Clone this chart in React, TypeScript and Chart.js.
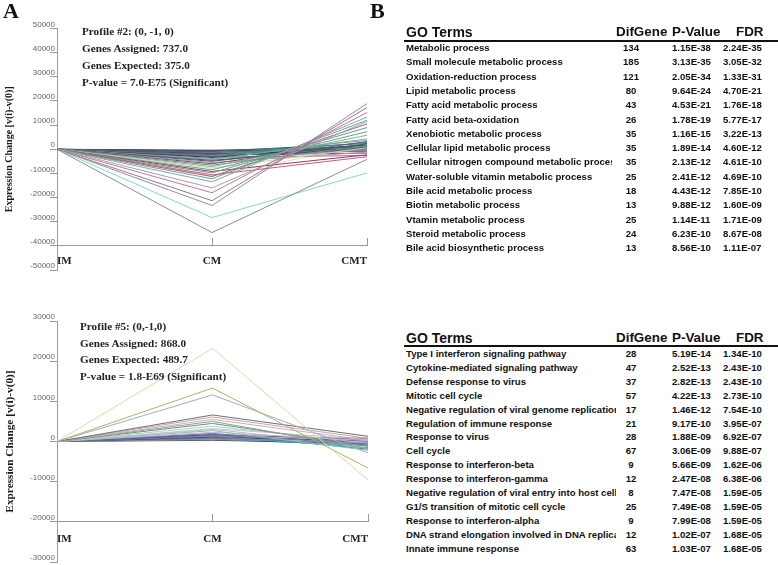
import React, { useEffect, useRef } from "react";
import { Chart, registerables } from "chart.js";

Chart.register(...registerables);

// ---------- Data ----------
const stages = ["IM", "CM", "CMT"];

// Profile #2 (0,-1,0): value at CM and CMT (IM is always 0)
const p2CM = [-34500, -28300, -23300, -21300, -18000, -16000, -13500, -12200, -11300, -10600, -9800, -9200, -8500, -7800, -7200, -6600, -6000, -5500, -5000, -4600, -4200, -3800, -3400, -3000, -2700, -2400, -2100, -1800, -1500, -1200, -900, -600, -400, -2200, -3300, -11000];
const p2CMT = [-4200, -9800, 18900, 17300, 15200, 11500, 13300, 12000, 10500, -3100, 9000, -2300, 7300, 600, 5800, 1400, 3200, -1200, 2200, 800, 4300, -500, 1800, 200, 2800, -1600, 1000, -800, 1500, 300, 2400, -300, 900, 3600, -2600, 1700];
const p2Colors = ["#8c8c96", "#7fdcc0", "#9e8a9e", "#8a7c94", "#c47a96", "#a9a0b0", "#8fa3a3", "#5caa96", "#b35b7e", "#c75a8b", "#6a9a80", "#8e3d66", "#4ea8a8", "#d6d69a", "#a8a878", "#49a58e", "#7a4a8a", "#c18aa8", "#2f6f4f", "#6b3a7a", "#5fb8a8", "#8a8a8a", "#4b2a60", "#3b7a5a", "#2e9b8a", "#7b4b93", "#556b55", "#5b2c6f", "#3c8b6c", "#6e3573", "#4a5f8a", "#5b2c6f", "#2f5f4f", "#9a9a9a", "#b06a8a", "#e0e0b0"];
const p2Ticks = [50000, 40000, 30000, 20000, 10000, 0, -10000, -20000, -30000, -40000, -50000];

// Profile #5 (0,-1,0)
const p5CM = [23200, 13300, 11600, 6600, 6100, 5500, 5000, 4500, 3800, 3200, 2700, 2300, 2000, 1700, 1500, 1300, 1100, 900, 700, 500, 1900, 3000, 800, 300, 1200, 600];
const p5CMT = [-9600, -6600, -2800, 1300, 800, 300, -1800, -1200, -400, 500, -2200, 200, -900, 600, -300, -1500, 100, -700, 400, -200, -1900, -1000, 900, -500, 300, -1000];
const p5Colors = ["#d9dca6", "#a6b56a", "#a9a6c6", "#6f6f6f", "#b9aaaa", "#d6a9b9", "#9a9a9a", "#4fa55a", "#a9c9e6", "#c6c6c6", "#86c6a6", "#e6a6c6", "#5f86c6", "#4f4f96", "#a65f86", "#3fa6a6", "#2f3f86", "#865fa6", "#5fa65f", "#c6865f", "#3086a6", "#c6b6d6", "#96a6b6", "#2f4f9f", "#6f3f8f", "#4f8fbf"];
const p5Ticks = [30000, 20000, 10000, 0, -10000, -20000, -30000];

const p2Notes = ["Profile #2: (0, -1, 0)", "Genes Assigned: 737.0", "Genes Expected: 375.0", "P-value = 7.0-E75 (Significant)"];
const p5Notes = ["Profile #5: (0,-1,0)", "Genes Assigned: 868.0", "Genes Expected: 489.7", "P-value = 1.8-E69 (Significant)"];

const tableHeaders = ["GO Terms", "DifGene", "P-Value", "FDR"];

const goTerms1 = ["Metabolic process", "Small molecule metabolic process", "Oxidation-reduction process", "Lipid metabolic process", "Fatty acid metabolic process", "Fatty acid beta-oxidation", "Xenobiotic metabolic process", "Cellular lipid metabolic process", "Cellular nitrogen compound metabolic process", "Water-soluble vitamin metabolic process", "Bile acid metabolic process", "Biotin metabolic process", "Vtamin metabolic process", "Steroid metabolic process", "Bile acid biosynthetic process"];
const difGene1 = [134, 185, 121, 80, 43, 26, 35, 35, 35, 25, 18, 13, 25, 24, 13];
const pValue1 = ["1.15E-38", "3.13E-35", "2.05E-34", "9.64E-24", "4.53E-21", "1.78E-19", "1.16E-15", "1.89E-14", "2.13E-12", "2.41E-12", "4.43E-12", "9.88E-12", "1.14E-11", "6.23E-10", "8.56E-10"];
const fdr1 = ["2.24E-35", "3.05E-32", "1.33E-31", "4.70E-21", "1.76E-18", "5.77E-17", "3.22E-13", "4.60E-12", "4.61E-10", "4.69E-10", "7.85E-10", "1.60E-09", "1.71E-09", "8.67E-08", "1.11E-07"];

const goTerms2 = ["Type I interferon signaling pathway", "Cytokine-mediated signaling pathway", "Defense response to virus", "Mitotic cell cycle", "Negative regulation of viral genome replication", "Regulation of immune response", "Response to virus", "Cell cycle", "Response to interferon-beta", "Response to interferon-gamma", "Negative regulation of viral entry into host cell", "G1/S transition of mitotic cell cycle", "Response to interferon-alpha", "DNA strand elongation involved in DNA replication", "Innate immune response"];
const difGene2 = [28, 47, 37, 57, 17, 21, 28, 67, 9, 12, 8, 25, 9, 12, 63];
const pValue2 = ["5.19E-14", "2.52E-13", "2.82E-13", "4.22E-13", "1.46E-12", "9.17E-10", "1.88E-09", "3.06E-09", "5.66E-09", "2.47E-08", "7.47E-08", "7.49E-08", "7.99E-08", "1.02E-07", "1.03E-07"];
const fdr2 = ["1.34E-10", "2.43E-10", "2.43E-10", "2.73E-10", "7.54E-10", "3.95E-07", "6.92E-07", "9.88E-07", "1.62E-06", "6.38E-06", "1.59E-05", "1.59E-05", "1.59E-05", "1.68E-05", "1.68E-05"];

// ---------- Styling ----------
const SERIF = '"Liberation Serif", "Times New Roman", serif';
const SANS = '"Liberation Sans", Arial, sans-serif';

type PanelProps = {
  top: number;
  height: number;
  cm: number[];
  cmt: number[];
  colors: string[];
  ticks: number[];
  axisAt: number;
  pad: { top: number; bottom: number; right: number };
  titleSize: number;
  labelPad: number;
};

function ProfileChart(props: PanelProps) {
  const ref = useRef<HTMLCanvasElement | null>(null);
  useEffect(() => {
    const canvas = ref.current;
    if (!canvas) return;
    const datasets = props.cm.map((v, i) => ({
      data: [0, v, props.cmt[i]],
      borderColor: props.colors[i],
      borderWidth: 1,
      pointRadius: 0,
      tension: 0,
      fill: false,
    }));
    const maxV = props.ticks[0];
    const minV = props.ticks[props.ticks.length - 1];
    const chart = new Chart(canvas, {
      type: "line",
      data: { labels: stages, datasets },
      options: {
        animation: false,
        responsive: false,
        devicePixelRatio: 1,
        layout: { padding: { top: props.pad.top, bottom: props.pad.bottom, left: 0, right: props.pad.right } },
        plugins: { legend: { display: false }, tooltip: { enabled: false } },
        scales: {
          x: {
            type: "category",
            offset: false,
            position: { y: props.axisAt } as any,
            ticks: {
              align: "inner",
              autoSkip: false,
              maxRotation: 0,
              padding: props.labelPad,
              color: "#222",
              font: { family: SERIF, weight: "bold", size: 11 },
            },
            grid: { drawOnChartArea: false, drawTicks: true, tickLength: -8, color: "#9a9a9a" },
            border: { display: true, color: "#9a9a9a" },
          },
          y: {
            type: "linear",
            min: minV,
            max: maxV,
            ticks: {
              stepSize: props.ticks[0] - props.ticks[1],
              autoSkip: false,
              padding: -5,
              labelOffset: -4,
              color: "#666",
              font: { family: SANS, size: 8 },
              callback: (v: any) => String(v),
            },
            grid: { drawOnChartArea: false, drawTicks: true, tickLength: 7, color: "#9a9a9a" },
            border: { display: true, color: "#9a9a9a" },
            title: {
              display: true,
              text: "Expression Change [v(i)-v(0)]",
              color: "#1a1a1a",
              font: { family: SERIF, weight: "bold", size: props.titleSize },
              padding: { top: 3, bottom: 0 },
            },
            afterFit: (s: any) => {
              s.width = 57;
            },
          },
        },
      },
    });
    return () => chart.destroy();
  }, []);
  return (
    <canvas
      ref={ref}
      width={390}
      height={props.height}
      style={{ position: "absolute", left: 0, top: props.top, width: 390, height: props.height }}
    />
  );
}

function Notes({ lines, left, tops }: { lines: string[]; left: number; tops: number[] }) {
  return (
    <>
      {lines.map((t, i) => (
        <div
          key={i}
          style={{
            position: "absolute",
            left,
            top: tops[i],
            fontFamily: SERIF,
            fontWeight: "bold",
            fontSize: 11.2,
            lineHeight: "14px",
            color: "#222",
            whiteSpace: "nowrap",
          }}
        >
          {t}
        </div>
      ))}
    </>
  );
}

function GoTable(props: {
  headerTop: number;
  lineTop: number;
  rowTop: number;
  rowStep: number;
  nameWidth: number;
  terms: string[];
  dif: number[];
  pv: string[];
  fdr: string[];
}) {
  const cell = (extra: any) => ({
    position: "absolute" as const,
    fontFamily: SANS,
    fontWeight: "bold" as const,
    whiteSpace: "nowrap" as const,
    color: "#111",
    ...extra,
  });
  const hdr = { fontSize: 13.4, lineHeight: "16px", top: props.headerTop };
  return (
    <>
      <div style={cell({ ...hdr, left: 406, fontSize: 14 })}>{tableHeaders[0]}</div>
      <div style={cell({ ...hdr, left: 616 })}>{tableHeaders[1]}</div>
      <div style={cell({ ...hdr, left: 672 })}>{tableHeaders[2]}</div>
      <div style={cell({ ...hdr, left: 736 })}>{tableHeaders[3]}</div>
      <div style={{ position: "absolute", left: 404, top: props.lineTop, width: 374, height: 2, background: "#111" }} />
      {props.terms.map((t, i) => {
        const top = props.rowTop + i * props.rowStep;
        const row = { fontSize: 9.6, lineHeight: "14px", top };
        return (
          <React.Fragment key={i}>
            <div style={cell({ ...row, left: 406, width: props.nameWidth, overflow: "hidden" })}>{t}</div>
            <div style={cell({ ...row, left: 611, width: 40, textAlign: "center" })}>{props.dif[i]}</div>
            <div style={cell({ ...row, left: 672 })}>{props.pv[i]}</div>
            <div style={cell({ ...row, left: 723 })}>{props.fdr[i]}</div>
          </React.Fragment>
        );
      })}
    </>
  );
}

export default function App() {
  return (
    <div style={{ position: "absolute", left: 0, top: 0, width: 778, height: 565, background: "#fff", overflow: "hidden" }}>
      <ProfileChart
        top={0}
        height={285}
        cm={p2CM}
        cmt={p2CMT}
        colors={p2Colors}
        ticks={p2Ticks}
        axisAt={-40000}
        pad={{ top: 28.5, bottom: 15, right: 23 }}
        titleSize={10}
        labelPad={17}
      />
      <ProfileChart
        top={285}
        height={280}
        cm={p5CM}
        cmt={p5CMT}
        colors={p5Colors}
        ticks={p5Ticks}
        axisAt={-20000}
        pad={{ top: 36, bottom: 3, right: 22 }}
        titleSize={11.3}
        labelPad={19}
      />
      <Notes lines={p2Notes} left={82} tops={[24, 41, 58, 75]} />
      <Notes lines={p5Notes} left={80} tops={[319, 336, 352, 369]} />
      <div style={{ position: "absolute", left: 3, top: -2, fontFamily: SERIF, fontWeight: "bold", fontSize: 22, color: "#111" }}>A</div>
      <div style={{ position: "absolute", left: 370, top: -2, fontFamily: SERIF, fontWeight: "bold", fontSize: 22, color: "#111" }}>B</div>
      <GoTable headerTop={24} lineTop={40} rowTop={41} rowStep={14.3} nameWidth={206} terms={goTerms1} dif={difGene1} pv={pValue1} fdr={fdr1} />
      <GoTable headerTop={330} lineTop={345} rowTop={347} rowStep={13.9} nameWidth={210} terms={goTerms2} dif={difGene2} pv={pValue2} fdr={fdr2} />
    </div>
  );
}
